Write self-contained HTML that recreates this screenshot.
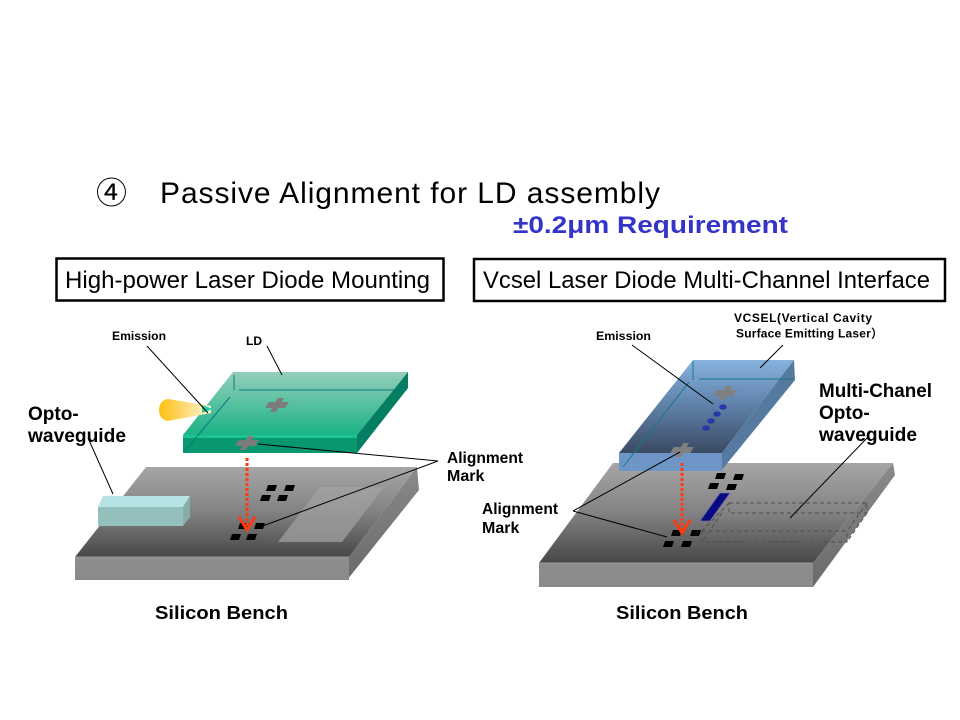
<!DOCTYPE html>
<html><head><meta charset="utf-8"><style>
html,body{margin:0;padding:0;background:#fff;}
svg{display:block;}
text{font-family:"Liberation Sans","Noto Sans CJK JP",sans-serif;}
</style></head><body>
<svg width="960" height="720" viewBox="0 0 960 720" xmlns="http://www.w3.org/2000/svg">
<defs>
<linearGradient id="benchTop" x1="0" y1="0" x2="0" y2="1">
<stop offset="0" stop-color="#a6a6a6"/><stop offset="0.5" stop-color="#828282"/><stop offset="1" stop-color="#474747"/></linearGradient>
<linearGradient id="benchFront" x1="0" y1="0" x2="0" y2="1">
<stop offset="0" stop-color="#8e8e8e"/><stop offset="1" stop-color="#8a8a8a"/></linearGradient>
<linearGradient id="benchSide" x1="0" y1="0" x2="0" y2="1">
<stop offset="0" stop-color="#8a8a8a"/><stop offset="1" stop-color="#6a6a6a"/></linearGradient>
<linearGradient id="pad" x1="0" y1="0" x2="0" y2="1">
<stop offset="0" stop-color="#a0a0a0"/><stop offset="1" stop-color="#8e8e8e"/></linearGradient>
<linearGradient id="ldTop" x1="0" y1="0" x2="0" y2="1">
<stop offset="0" stop-color="#94ceba"/><stop offset="1" stop-color="#1bb387"/></linearGradient>
<linearGradient id="vcTop" x1="0" y1="0" x2="0" y2="1">
<stop offset="0" stop-color="#86b2de"/><stop offset="0.5" stop-color="#5e80a8"/><stop offset="1" stop-color="#3a4a62"/></linearGradient>
<linearGradient id="cone" x1="0" y1="0" x2="1" y2="0">
<stop offset="0" stop-color="#ffc010"/><stop offset="0.6" stop-color="#ffe08a"/><stop offset="1" stop-color="#fff6d8"/></linearGradient>
</defs>

<!-- Title -->
<text x="96" y="204" font-size="31" fill="#000">④</text>
<text x="160" y="203" font-size="30" fill="#000" textLength="500" lengthAdjust="spacing">Passive Alignment for LD assembly</text>
<text x="513" y="233" font-size="24" font-weight="bold" fill="#3434c8" textLength="275" lengthAdjust="spacingAndGlyphs">±0.2μm Requirement</text>

<!-- Boxes -->
<rect x="56.5" y="258.5" width="387" height="42" fill="none" stroke="#000" stroke-width="2.5"/>
<text x="65" y="288" font-size="24" fill="#000" textLength="365" lengthAdjust="spacingAndGlyphs">High-power Laser Diode Mounting</text>
<rect x="474" y="259" width="471" height="42" fill="none" stroke="#000" stroke-width="2.5"/>
<text x="483" y="288" font-size="24" fill="#000" textLength="447" lengthAdjust="spacingAndGlyphs">Vcsel Laser Diode Multi-Channel Interface</text>

<!-- ============ LEFT DIAGRAM ============ -->
<polygon points="146,467 417,467 349,557 75,557" fill="url(#benchTop)"/>
<polygon points="417,467 419,490 347,580 349,557" fill="url(#benchSide)"/>
<rect x="75" y="557" width="274" height="23" fill="url(#benchFront)"/>
<line x1="75" y1="557" x2="349" y2="557" stroke="#9a9a9a" stroke-width="1"/>
<polygon points="320,487 384,487 342,542 278,542" fill="url(#pad)"/>
<polygon points="103,496 190,496 183,507 98,507" fill="#b6e3e3"/>
<rect x="98" y="507" width="85" height="19" fill="#93c0bd"/>
<polygon points="190,496 190,517 183,526 183,507" fill="#86adaa"/>
<g fill="#000">
<polygon points="268,485 277,485 275,491 266,491"/>
<polygon points="286,485 295,485 293,491 284,491"/>
<polygon points="262,495 271,495 269,501 260,501"/>
<polygon points="279,495 288,495 286,501 277,501"/>
<polygon points="240,523 249,523 247,529 238,529"/>
<polygon points="256,523 265,523 263,529 254,529"/>
<polygon points="232,534 241,534 239,540 230,540"/>
<polygon points="248,534 257,534 255,540 246,540"/>
</g>
<polygon points="233,372 408,372 357,435 183,435" fill="url(#ldTop)"/>
<polygon points="408,372 408,388 357,453 357,435" fill="#047e62"/>
<rect x="183" y="435" width="174" height="18" fill="#07986f"/>
<rect x="183" y="435" width="174" height="3" fill="#1ec393"/>
<g stroke="#0b7a7e" stroke-width="1" fill="none">
<line x1="234" y1="375" x2="234" y2="390"/>
<line x1="239" y1="390" x2="407" y2="390"/>
<line x1="230" y1="397" x2="184" y2="452"/>
</g>
<g transform="translate(277,405) skewX(-30)" fill="#7c7c7c">
<rect x="-10" y="-3" width="20" height="6"/><rect x="-3" y="-7" width="6" height="14"/></g>
<g transform="translate(247,443) skewX(-30)" fill="#7c7c7c">
<rect x="-10" y="-3" width="20" height="6"/><rect x="-3" y="-7" width="6" height="14"/></g>
<path d="M168,399 L211,406 L211,413 L168,421 A9,11 0 0 1 168,399 Z" fill="url(#cone)"/>
<polygon points="202,405 213,409 202,413" fill="#22cfa0"/>
<line x1="247" y1="458" x2="247" y2="527" stroke="#ff3a10" stroke-width="3" stroke-dasharray="3,2"/>
<polyline points="239,517 247,530 255,517" fill="none" stroke="#ff3a10" stroke-width="3"/>
<g stroke="#000" stroke-width="1">
<line x1="147" y1="346" x2="208" y2="413"/>
<line x1="267" y1="346" x2="282" y2="375"/>
<line x1="88" y1="438" x2="113" y2="494"/>
<line x1="438" y1="461" x2="258" y2="444"/>
<line x1="438" y1="461" x2="260" y2="527"/>
</g>
<text x="112" y="340" font-size="12" font-weight="bold" textLength="54" lengthAdjust="spacingAndGlyphs">Emission</text>
<text x="246" y="345" font-size="12" font-weight="bold">LD</text>
<text x="28" y="420" font-size="19" font-weight="bold">Opto-</text>
<text x="28" y="442" font-size="19" font-weight="bold" textLength="98" lengthAdjust="spacingAndGlyphs">waveguide</text>
<text x="447" y="463" font-size="16" font-weight="bold" textLength="76" lengthAdjust="spacingAndGlyphs">Alignment</text>
<text x="447" y="481" font-size="16" font-weight="bold">Mark</text>
<text x="155" y="619" font-size="18" font-weight="bold" textLength="133" lengthAdjust="spacingAndGlyphs">Silicon  Bench</text>

<!-- ============ RIGHT DIAGRAM ============ -->
<polygon points="613,463 893,463 813,563 539,563" fill="url(#benchTop)"/>
<polygon points="893,463 895,475 813,587 813,563" fill="url(#benchSide)"/>
<rect x="539" y="563" width="274" height="24" fill="url(#benchFront)"/>
<line x1="539" y1="563" x2="813" y2="563" stroke="#9a9a9a" stroke-width="1"/>
<g stroke="#505050" stroke-width="1" fill="none" stroke-dasharray="4,3">
<rect x="729" y="503" width="138" height="10"/>
<rect x="702" y="531" width="145" height="11"/>
<line x1="867" y1="503" x2="847" y2="531"/>
<line x1="867" y1="513" x2="847" y2="542"/>
<line x1="729" y1="503" x2="702" y2="531"/>
<line x1="722" y1="513" x2="702" y2="542"/>
</g>
<polygon points="720,493 730,493 710,521 700,521" fill="#0a0a80" stroke="#6a6aa8" stroke-width="0.8"/>
<g fill="#000">
<polygon points="717,473 726,473 724,479 715,479"/>
<polygon points="735,474 744,474 742,480 733,480"/>
<polygon points="710,483 719,483 717,489 708,489"/>
<polygon points="728,484 737,484 735,490 726,490"/>
<polygon points="673,530 682,530 680,536 671,536"/>
<polygon points="692,530 701,530 699,536 690,536"/>
<polygon points="665,541 674,541 672,547 663,547"/>
<polygon points="683,541 692,541 690,547 681,547"/>
</g>
<polygon points="693,360 794,360 722,453 619,453" fill="url(#vcTop)"/>
<polygon points="794,360 795,380 721,471 722,453" fill="#5679a0"/>
<rect x="619" y="453" width="103" height="18" fill="#6d96c6"/>
<g stroke="#137a80" stroke-width="1" fill="none">
<line x1="693" y1="361" x2="693" y2="380"/>
<line x1="699" y1="379" x2="794" y2="379"/>
<line x1="689" y1="382" x2="623" y2="467"/>
</g>
<g transform="translate(725,393) skewX(-30)" fill="#808080">
<rect x="-10" y="-3" width="20" height="6"/><rect x="-3" y="-7" width="6" height="14"/></g>
<g transform="translate(682,450) skewX(-30)" fill="#808080">
<rect x="-10" y="-3" width="20" height="6"/><rect x="-3" y="-7" width="6" height="14"/></g>
<g fill="#2a36a8">
<ellipse cx="723" cy="407" rx="3.8" ry="2.6"/>
<ellipse cx="717" cy="414" rx="3.8" ry="2.6"/>
<ellipse cx="711" cy="421" rx="3.8" ry="2.6"/>
<ellipse cx="706" cy="428" rx="3.8" ry="2.6"/>
</g>
<line x1="682" y1="463" x2="682" y2="530" stroke="#ff3a10" stroke-width="3" stroke-dasharray="3,2"/>
<polyline points="674,520 682,533 690,520" fill="none" stroke="#ff3a10" stroke-width="3"/>
<g stroke="#000" stroke-width="1">
<line x1="632" y1="345" x2="713" y2="404"/>
<line x1="783" y1="345" x2="760" y2="368"/>
<line x1="868" y1="437" x2="790" y2="518"/>
<line x1="573" y1="511" x2="680" y2="452"/>
<line x1="573" y1="511" x2="667" y2="537"/>
</g>
<text x="596" y="340" font-size="12" font-weight="bold" textLength="55" lengthAdjust="spacingAndGlyphs">Emission</text>
<text x="734" y="322" font-size="12" font-weight="bold" textLength="138" lengthAdjust="spacing">VCSEL(Vertical Cavity</text>
<text x="736" y="337.5" font-size="12" font-weight="bold" textLength="147" lengthAdjust="spacing">Surface Emitting Laser）</text>
<text x="819" y="397" font-size="19" font-weight="bold" textLength="113" lengthAdjust="spacingAndGlyphs">Multi-Chanel</text>
<text x="819" y="419" font-size="19" font-weight="bold">Opto-</text>
<text x="819" y="441" font-size="19" font-weight="bold" textLength="98" lengthAdjust="spacingAndGlyphs">waveguide</text>
<text x="482" y="514" font-size="16" font-weight="bold" textLength="76" lengthAdjust="spacingAndGlyphs">Alignment</text>
<text x="482" y="533" font-size="16" font-weight="bold">Mark</text>
<text x="616" y="619" font-size="18" font-weight="bold" textLength="132" lengthAdjust="spacingAndGlyphs">Silicon  Bench</text>
</svg>
</body></html>
